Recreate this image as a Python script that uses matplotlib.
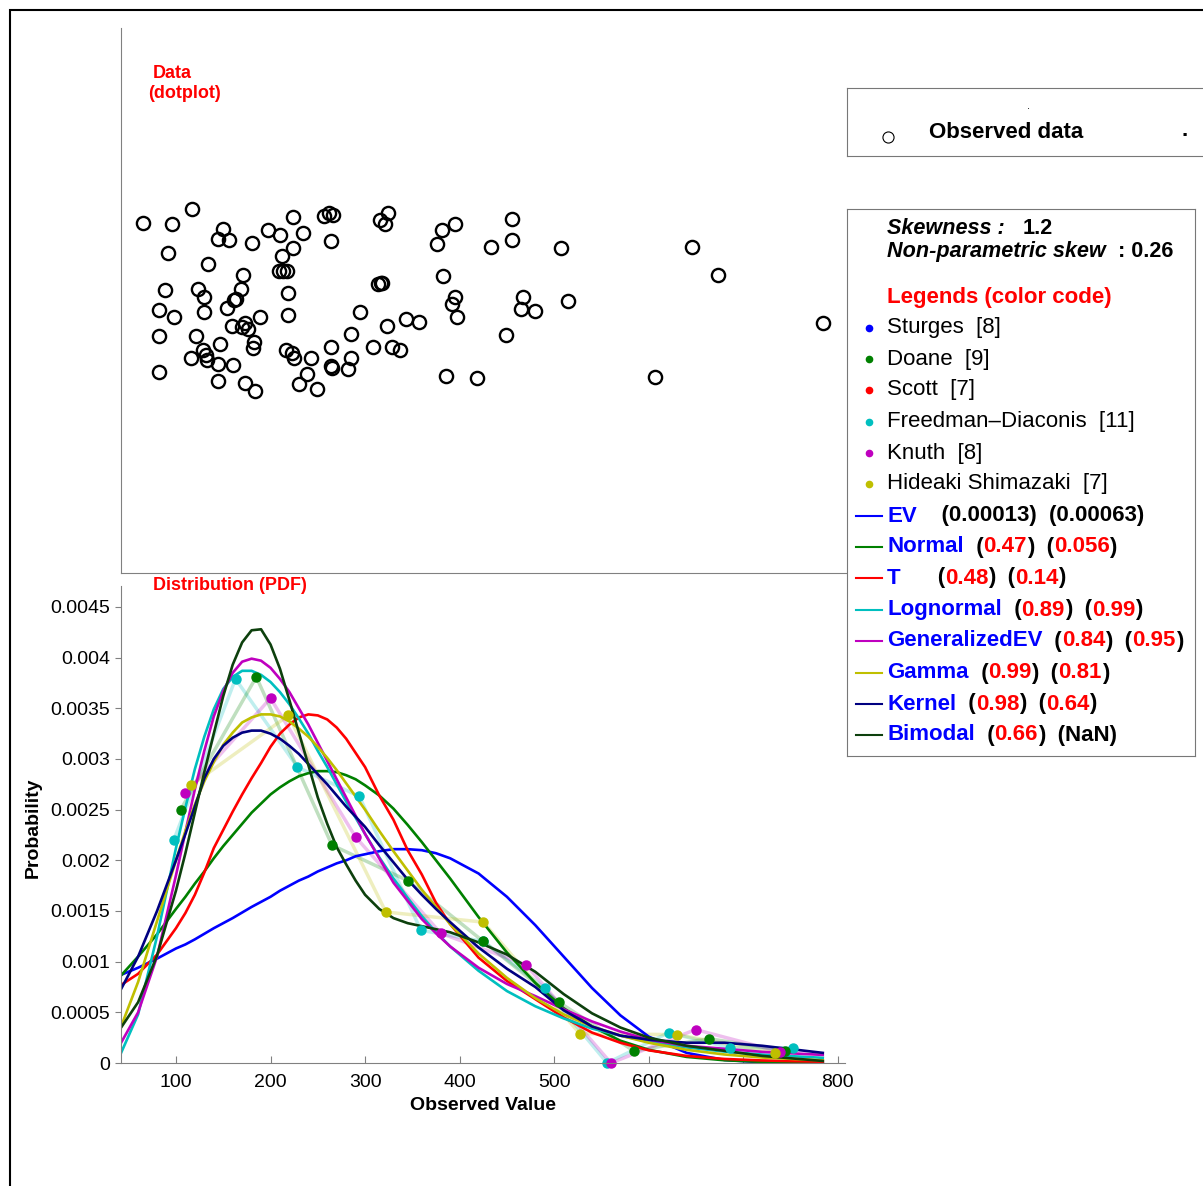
import matplotlib
matplotlib.use('Agg')
import matplotlib.pyplot as plt
from matplotlib.offsetbox import TextArea, HPacker, AnnotationBbox
from matplotlib.patches import Rectangle

plt.rcParams['font.family'] = ['Liberation Sans', 'DejaVu Sans']

W, H = 1203, 1186

# observed data (dotplot): value and random vertical jitter
OBS_VALUES = [64.8, 95.5, 117.3, 91.9, 150.0, 144.8, 156.1, 180.1, 134.2, 197.6,
              209.7, 223.7, 234.6, 212.4, 223.7, 256.5, 261.8, 265.7, 263.6, 315.4,
              323.9, 321.3, 381.6, 395.1, 376.0, 382.4, 395.1, 391.9, 396.9, 88.7,
              82.4, 98.2, 82.1, 82.4, 123.3, 129.3, 129.3, 121.2, 128.3, 131.8,
              133.1, 115.9, 144.8, 144.4, 160.3, 173.3, 183.6, 146.9, 153.6, 161.7,
              163.5, 168.4, 170.9, 159.2, 169.5, 173.0, 176.5, 189.2, 182.8, 181.8,
              209.3, 213.5, 217.1, 218.1, 218.1, 216.3, 222.4, 225.1, 242.8, 238.2,
              230.1, 249.4, 263.6, 263.6, 265.3, 281.9, 284.8, 284.8, 294.3, 308.7,
              313.3, 316.5, 318.2, 323.5, 328.1, 336.9, 343.6, 357.3, 385.2, 455.6,
              455.0, 432.8, 507.1, 646.0, 673.1, 466.6, 464.8, 479.3, 514.5, 448.7,
              418.6, 606.5, 784.5]
OBS_JITTER = [6.43, 6.40, 6.67, 5.87, 6.31, 6.12, 6.11, 6.06, 5.67, 6.29,
              6.21, 6.54, 6.24, 5.82, 5.96, 6.55, 6.61, 6.56, 6.09, 6.48,
              6.60, 6.41, 6.29, 6.41, 6.04, 5.45, 5.07, 4.94, 4.70, 5.20,
              4.82, 4.70, 4.34, 3.69, 5.21, 5.07, 4.79, 4.35, 4.10, 4.00,
              3.91, 3.95, 3.83, 3.52, 3.82, 3.49, 3.34, 4.21, 4.87, 5.01,
              5.03, 5.21, 5.46, 4.53, 4.52, 4.59, 4.47, 4.69, 4.23, 4.13,
              5.55, 5.55, 5.55, 5.14, 4.74, 4.09, 4.03, 3.95, 3.94, 3.66,
              3.47, 3.37, 4.15, 3.79, 3.77, 3.74, 3.95, 4.39, 4.79, 4.15,
              5.30, 5.32, 5.33, 4.53, 4.14, 4.10, 4.66, 4.61, 3.62, 6.50,
              6.11, 5.98, 5.97, 5.99, 5.46, 5.06, 4.84, 4.81, 4.99, 4.37,
              3.57, 3.60, 4.58]

# fitted pdfs, sampled at XS
XS = [42, 60, 80, 100, 110, 120, 130, 140, 150, 160, 170, 180, 190, 200, 210, 220, 230,
      240, 250, 260, 270, 280, 290, 300, 315, 330, 345, 360, 375, 390, 420, 450, 480,
      510, 540, 570, 600, 640, 680, 720, 784]
EV = [0.00087, 0.00094, 0.00103, 0.00113, 0.00117, 0.00122, 0.001275, 0.00133, 0.00138, 0.00143,
      0.001485, 0.00154, 0.00159, 0.00164, 0.0017, 0.00175, 0.0018, 0.00184, 0.00189, 0.00193,
      0.00197, 0.002, 0.00204, 0.00206, 0.00209, 0.00211, 0.00211, 0.0021, 0.00207, 0.00202,
      0.00187, 0.00164, 0.00136, 0.00105, 0.00074, 0.00047, 0.00026, 0.0001, 0.00003, 0.000007, 0.0]
NORMAL = [0.000864, 0.00105, 0.00127, 0.00152, 0.00164, 0.00177, 0.00189, 0.00202, 0.00214, 0.00225,
          0.00236, 0.00247, 0.00256, 0.00265, 0.00272, 0.00278, 0.00283, 0.00286, 0.00288, 0.00288,
          0.00287, 0.00284, 0.0028, 0.00274, 0.00264, 0.00251, 0.00235, 0.00218, 0.002, 0.00182,
          0.00144, 0.00109, 0.00079, 0.00054, 0.00036, 0.00022, 0.00013, 0.00006, 0.000027,
          0.000011, 0.000002]
T_DIST = [0.00077, 0.00088, 0.00107, 0.00133, 0.00148, 0.00166, 0.00188, 0.00212, 0.0023, 0.00248,
          0.00265, 0.00281, 0.00296, 0.00312, 0.00325, 0.00334, 0.00341, 0.00344, 0.00343, 0.00339,
          0.00331, 0.0032, 0.00306, 0.00292, 0.00264, 0.0024, 0.0021, 0.00186, 0.00158, 0.00137,
          0.00104, 0.00081, 0.00063, 0.00045, 0.0003, 0.0002, 0.000125, 0.00007, 0.00004,
          0.000025, 0.000012]
LOGNORMAL = [0.0001, 0.00048, 0.00125, 0.00212, 0.00252, 0.0029, 0.00322, 0.00349, 0.00369, 0.00381,
             0.00387, 0.00387, 0.00383, 0.00376, 0.00366, 0.00354, 0.0034, 0.00325, 0.00308, 0.00292,
             0.00275, 0.00258, 0.00242, 0.00226, 0.00203, 0.00182, 0.00163, 0.00145, 0.00129,
             0.00115, 0.00091, 0.00071, 0.00056, 0.00044, 0.00034, 0.00027, 0.00021, 0.000154,
             0.000113, 0.000083, 0.000051]
GEV = [0.0002, 0.0005, 0.00105, 0.00185, 0.00228, 0.0027, 0.00308, 0.00342, 0.00367, 0.00385,
       0.00396, 0.00399, 0.00397, 0.0039, 0.00379, 0.00366, 0.0035, 0.00334, 0.00316, 0.00298,
       0.0028, 0.00262, 0.00244, 0.00226, 0.00202, 0.00178, 0.0016, 0.00142, 0.00128, 0.00115,
       0.00094, 0.00078, 0.00066, 0.00053, 0.00041, 0.00031, 0.00023, 0.00017, 0.00014,
       0.00011, 0.00008]
GAMMA = [0.00036, 0.0008, 0.0014, 0.002, 0.00229, 0.00255, 0.00278, 0.00297, 0.00314, 0.00326,
         0.00336, 0.00341, 0.00344, 0.00344, 0.00342, 0.00337, 0.0033, 0.00322, 0.00312, 0.00301,
         0.00289, 0.00276, 0.00263, 0.0025, 0.00229, 0.00209, 0.0019, 0.00171, 0.00154, 0.00137,
         0.00108, 0.00084, 0.00064, 0.00048, 0.00036, 0.00027, 0.0002, 0.00013, 0.000084,
         0.000054, 0.000026]
KERNEL = [0.00073, 0.00105, 0.0015, 0.002, 0.00226, 0.00253, 0.00281, 0.003, 0.00313, 0.00321,
          0.00326, 0.00328, 0.00328, 0.00325, 0.0032, 0.00313, 0.00305, 0.00295, 0.00285, 0.00275,
          0.00264, 0.00253, 0.00243, 0.00233, 0.00215, 0.00198, 0.00181, 0.00166, 0.00152,
          0.00139, 0.00114, 0.00093, 0.00075, 0.00052, 0.00036, 0.00027, 0.00023, 0.0002,
          0.0002, 0.00017, 0.0001]
BIMODAL = [0.00035, 0.0006, 0.00106, 0.0017, 0.00207, 0.00247, 0.00287, 0.00325, 0.00362, 0.00393,
           0.00415, 0.00427, 0.00428, 0.00413, 0.00389, 0.00358, 0.00326, 0.00294, 0.00262, 0.00236,
           0.00213, 0.00196, 0.0018, 0.00166, 0.00152, 0.00143, 0.00138, 0.00135, 0.00132, 0.00129,
           0.00119, 0.00107, 0.0009, 0.00068, 0.00049, 0.00035, 0.00025, 0.00017, 0.00012,
           0.00007, 0.00002]

# histogram estimates (bin centres, density)
FD_X = [97.7, 163, 228.5, 294, 359, 425, 490, 556, 621, 686, 752]
FD_P = [0.0022, 0.00379, 0.00292, 0.00263, 0.00131, 0.0012, 0.00074, 0.0, 0.0003, 0.00015, 0.00015]
DOANE_X = [105, 185, 265, 345, 425, 505, 584, 664, 744]
DOANE_P = [0.0025, 0.00381, 0.00215, 0.0018, 0.0012, 0.0006, 0.00012, 0.00024, 0.00012]
KNUTH_X = [110, 200, 290, 380, 470, 560, 649.5, 739]
KNUTH_P = [0.00266, 0.0036, 0.00223, 0.00128, 0.00097, 0.0, 0.00033, 0.00011]
HS_X = [116, 219, 322, 425, 527, 630, 733]
HS_P = [0.00274, 0.00343, 0.00149, 0.00139, 0.00029, 0.00028, 0.0001]

YTICKS = [0, 0.0005, 0.001, 0.0015, 0.002, 0.0025, 0.003, 0.0035, 0.004, 0.0045]
YTICK_LABELS = ['0', '0.0005', '0.001', '0.0015', '0.002', '0.0025', '0.003', '0.0035', '0.004', '0.0045']
XTICKS = [100, 200, 300, 400, 500, 600, 700, 800]

C_BLUE = (0, 0, 1)
C_GREEN = (0, 0.5, 0)
C_RED = (1, 0, 0)
C_CYAN = (0, 0.75, 0.75)
C_MAG = (0.75, 0, 0.75)
C_OLIVE = (0.75, 0.75, 0)
C_NAVY = (0, 0, 0.5)
C_DKGREEN = (0.05, 0.25, 0.05)
GRAY = '#808080'


def px_axes(fig, x0, y0, x1, y1):
    return fig.add_axes([x0 / W, 1 - y1 / H, (x1 - x0) / W, (y1 - y0) / H])


fig = plt.figure(figsize=(W / 100, H / 100), dpi=100)

# outer frame
fig.add_artist(Rectangle((10 / W, -0.01), 1.1, 1 - 10 / H + 0.01, transform=fig.transFigure,
                         fill=False, ec='black', lw=1.5))

# ---- dotplot
ax1 = px_axes(fig, 121, 28, 848, 573)
ax1.plot(OBS_VALUES, OBS_JITTER, 'o', ms=9.5, mfc='none', mec='black', mew=1.7)
ax1.set_xlim(41.9, 810.6)
ax1.set_ylim(0, 10)
ax1.set_xticks([])
ax1.set_yticks([])
for s in ['top', 'right']:
    ax1.spines[s].set_visible(False)
for s in ['left', 'bottom']:
    ax1.spines[s].set_color(GRAY)

fig.text(153 / W, 1 - 73 / H, 'Data', color='red', weight='bold', size=13, ha='left', va='center')
fig.text(148 / W, 1 - 93 / H, '(dotplot)', color='red', weight='bold', size=13, ha='left', va='center')

# ---- pdf plot
ax2 = px_axes(fig, 121, 586, 845, 1063)
hists = [(FD_X, FD_P, C_CYAN), (DOANE_X, DOANE_P, C_GREEN),
         (KNUTH_X, KNUTH_P, C_MAG), (HS_X, HS_P, C_OLIVE)]
for hx, hp, c in hists:
    ax2.plot(hx, hp, color=c, lw=2.5, alpha=0.25)

fits = [(EV, C_BLUE), (NORMAL, C_GREEN), (T_DIST, C_RED), (LOGNORMAL, C_CYAN),
        (GEV, C_MAG), (GAMMA, C_OLIVE), (KERNEL, C_NAVY), (BIMODAL, C_DKGREEN)]
for ys, c in fits:
    ax2.plot(XS, ys, color=c, lw=1.9)

for hx, hp, c in hists:
    ax2.plot(hx, hp, 'o', color=c, ms=6.5, clip_on=False)

ax2.set_xlim(41.9, 807.5)
ax2.set_ylim(0, 0.004707)
ax2.set_xticks(XTICKS)
ax2.set_yticks(YTICKS)
ax2.set_yticklabels(YTICK_LABELS)
ax2.tick_params(axis='x', direction='in', length=5, color=GRAY, labelsize=14, pad=8)
ax2.tick_params(axis='y', direction='out', length=4, color=GRAY, labelsize=14, pad=4)
for s in ['top', 'right']:
    ax2.spines[s].set_visible(False)
for s in ['left', 'bottom']:
    ax2.spines[s].set_color(GRAY)

fig.text(153 / W, 1 - 586 / H, 'Distribution (PDF)', color='red', weight='bold', size=13,
         ha='left', va='center')
fig.text(33 / W, 1 - 828 / H, 'Probability', weight='bold', size=14, rotation=90,
         ha='center', va='center')
fig.text(483 / W, 1 - 1106 / H, 'Observed Value', weight='bold', size=14,
         ha='center', va='center')

# ---- observed data box
ax4 = px_axes(fig, 847, 88, 1215, 156)
ax4.set_xlim(847, 1215)
ax4.set_ylim(156, 88)
ax4.set_xticks([])
ax4.set_yticks([])
for s in ax4.spines.values():
    s.set_color('#777777')
ax4.plot([888], [137], 'o', ms=8, mfc='none', mec='black', mew=0.8)
ax4.text(929, 132, 'Observed data', weight='bold', size=16, va='center')
ax4.text(1028, 106, '.', size=8, va='center', ha='center')
ax4.text(1185, 131, '.', weight='bold', size=16, va='center', ha='center')

# ---- main legend box
ax3 = px_axes(fig, 847, 209, 1195, 756)
ax3.set_xlim(847, 1195)
ax3.set_ylim(756, 209)
ax3.set_xticks([])
ax3.set_yticks([])
for s in ax3.spines.values():
    s.set_color('#777777')


def packed(ax, x, y, pieces, size=16):
    kids = []
    for txt, color, weight, style in pieces:
        kids.append(TextArea(txt, textprops=dict(color=color, fontsize=size,
                                                 fontweight=weight, fontstyle=style)))
    box = HPacker(children=kids, sep=0, pad=0, align='baseline')
    ab = AnnotationBbox(box, (x, y), xycoords='data', box_alignment=(0, 0.5),
                        frameon=False, pad=0)
    ax.add_artist(ab)


# skewness header, baseline aligned
ax3.text(887, 234, 'Skewness :', weight='bold', style='italic', size=15.6, va='baseline')
ax3.text(1023, 234, '1.2', weight='bold', size=15.6, va='baseline')
ax3.text(887, 257, 'Non-parametric skew', weight='bold', style='italic', size=15.6, va='baseline')
ax3.text(1118, 257, ': 0.26', weight='bold', size=15.6, va='baseline')
ax3.text(887, 297, 'Legends (color code)', color='red', weight='bold', size=16, va='center')

hist_rows = [('Sturges  [8]', C_BLUE, 328), ('Doane  [9]', C_GREEN, 359),
             ('Scott  [7]', C_RED, 390), ('Freedman\u2013Diaconis  [11]', C_CYAN, 422),
             ('Knuth  [8]', C_MAG, 453), ('Hideaki Shimazaki  [7]', C_OLIVE, 484)]
for label, c, y in hist_rows:
    ax3.plot([869], [y], 'o', color=c, ms=4.5)
    ax3.text(887, y, label, size=16, va='center')

B, R, K = C_BLUE, C_RED, 'black'
fit_rows = [
    ('EV', C_BLUE, 516, [('    (0.00013)  (0.00063)', K)]),
    ('Normal', C_GREEN, 547, [('  (', K), ('0.47', R), (')  (', K), ('0.056', R), (')', K)]),
    ('T', C_RED, 578, [('      (', K), ('0.48', R), (')  (', K), ('0.14', R), (')', K)]),
    ('Lognormal', C_CYAN, 610, [('  (', K), ('0.89', R), (')  (', K), ('0.99', R), (')', K)]),
    ('GeneralizedEV', C_MAG, 641, [('  (', K), ('0.84', R), (')  (', K), ('0.95', R), (')', K)]),
    ('Gamma', C_OLIVE, 673, [('  (', K), ('0.99', R), (')  (', K), ('0.81', R), (')', K)]),
    ('Kernel', C_NAVY, 704, [('  (', K), ('0.98', R), (')  (', K), ('0.64', R), (')', K)]),
    ('Bimodal', C_DKGREEN, 735, [('  (', K), ('0.66', R), (')  (NaN)', K)]),
]
for name, c, y, rest in fit_rows:
    ax3.plot([856, 882], [y, y], color=c, lw=1.5)
    pieces = [(name, B, 'bold', 'normal')] + [(t, col, 'bold', 'normal') for t, col in rest]
    packed(ax3, 887, y, pieces)

fig.savefig('out.png', dpi=100)
